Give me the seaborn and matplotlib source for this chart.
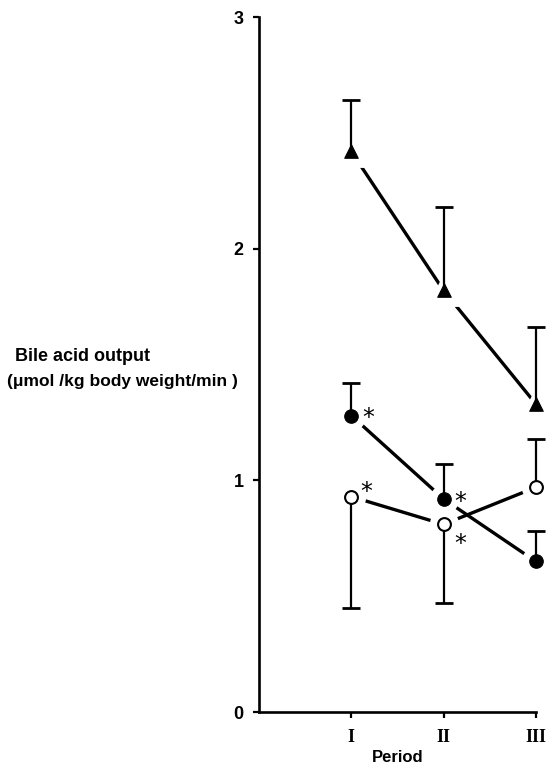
import matplotlib
matplotlib.use("Agg")
import matplotlib.pyplot as plt
import numpy as np
import pandas as pd
import seaborn as sns

# ---------------------------
# data
# ---------------------------

periods = ["I", "II", "III"]

triangle_mean = [2.42, 1.82, 1.33]
triangle_err = [0.22, 0.36, 0.33]

filled_mean = [1.28, 0.92, 0.65]
filled_err = [0.14, 0.15, 0.13]

open_mean = [0.93, 0.81, 0.97]
open_err = [0.48, 0.34, 0.21]
open_err_sign = [-1, -1, 1]   # -1 = bar drawn downwards

star_filled = [True, True, False]
star_open = [True, True, False]

# ---------------------------
# figure
# ---------------------------

sns.set_theme(style="ticks")
plt.rcParams["font.family"] = ["Liberation Sans", "DejaVu Sans"]
plt.rcParams["text.color"] = "black"
plt.rcParams["xtick.color"] = "black"
plt.rcParams["ytick.color"] = "black"
plt.rcParams["axes.labelcolor"] = "black"

fig = plt.figure(figsize=(5.47, 7.67), dpi=100)
ax = fig.add_axes([0.4735, 0.0717, 0.506, 0.906])

x = list(range(len(periods)))
df = pd.DataFrame({
    "x": x * 3,
    "value": triangle_mean + filled_mean + open_mean,
    "group": ["tri"] * 3 + ["filled"] * 3 + ["open"] * 3,
})

# lines
for g in ["tri", "filled", "open"]:
    sub = df[df["group"] == g]
    sns.lineplot(data=sub, x="x", y="value", ax=ax, color="black",
                 linewidth=2.4, legend=False, zorder=2)

# white halo so lines stop short of the markers
for vals, mk, s in [(triangle_mean, "^", 480), (filled_mean, "o", 380),
                    (open_mean, "o", 380)]:
    sns.scatterplot(x=x, y=vals, ax=ax, marker=mk, s=s, color="white",
                    edgecolor="white", zorder=3, legend=False, clip_on=False)


# one-sided error bars: stem + cap at the far end only
def one_sided(means, errs, signs):
    ends = np.array(means) + np.array(errs) * np.array(signs)
    ax.vlines(x, means, ends, color="black", linewidth=1.6, zorder=4,
              clip_on=False)
    ax.plot(x, ends, linestyle="none", marker="_", markersize=13,
            markeredgewidth=2.0, color="black", zorder=4, clip_on=False)


one_sided(triangle_mean, triangle_err, [1, 1, 1])
one_sided(filled_mean, filled_err, [1, 1, 1])
one_sided(open_mean, open_err, open_err_sign)

# markers
sns.scatterplot(x=x, y=triangle_mean, ax=ax, marker="^", s=95,
                color="black", edgecolor="black", zorder=5, legend=False,
                clip_on=False)
sns.scatterplot(x=x, y=filled_mean, ax=ax, marker="o", s=95,
                color="black", edgecolor="black", zorder=5, legend=False,
                clip_on=False)
sns.scatterplot(x=x, y=open_mean, ax=ax, marker="o", s=85,
                color="white", edgecolor="black", linewidth=1.5,
                zorder=5, legend=False, clip_on=False)

# significance asterisks
star_kw = dict(textcoords="offset points", fontsize=17, ha="center",
               va="center", family=["DejaVu Sans"], color="black")
for xi, m, s in zip(x, filled_mean, star_filled):
    if s:
        ax.annotate("*", (xi, m), xytext=(12, -2), **star_kw)
for xi, m, s in zip(x, open_mean, star_open):
    if s:
        off = (11, 3) if xi == 0 else (12, -14)
        ax.annotate("*", (xi, m), xytext=off, **star_kw)

# axes
ax.set_xlim(-1, 2)
ax.set_ylim(0, 3)
ax.set_xticks(x)
ax.set_xticklabels(periods, family=["Liberation Serif"], fontsize=13,
                   fontweight="bold")
ax.set_yticks([0, 1, 2, 3])
ax.set_yticklabels(["0", "1", "2", "3"], fontsize=13, fontweight="bold")
ax.tick_params(axis="both", direction="out", length=4, width=1.6,
               color="black", labelcolor="black", pad=7)
ax.tick_params(axis="x", pad=8)
for side in ["top", "right"]:
    ax.spines[side].set_visible(False)
for side in ["left", "bottom"]:
    ax.spines[side].set_linewidth(1.9)
    ax.spines[side].set_color("black")

ax.set_xlabel("Period", fontsize=12, fontweight="bold", labelpad=3,
              color="black")
ax.set_ylabel("")

fig.text(0.027, 0.535, "Bile acid output", fontsize=13, fontweight="bold",
         ha="left", va="center", color="black")
fig.text(0.013, 0.502, "(\u03bcmol /kg body weight/min )", fontsize=12.5,
         fontweight="bold", ha="left", va="center", color="black")

fig.savefig("out.png", dpi=100)
